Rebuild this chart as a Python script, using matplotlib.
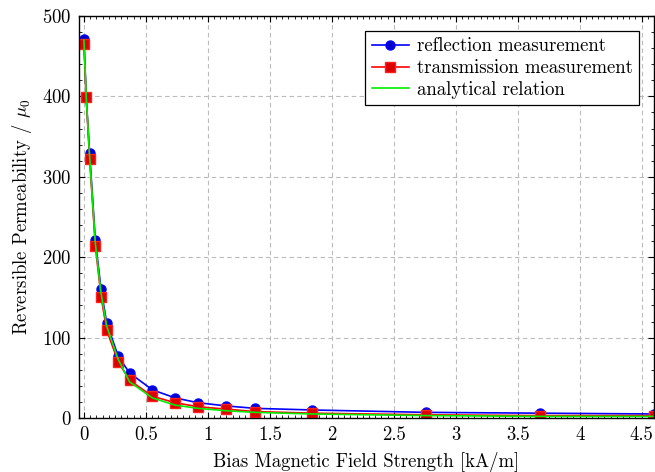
import matplotlib

matplotlib.use("Agg")
import matplotlib.pyplot as plt
from matplotlib.ticker import MultipleLocator

# bias field values [kA/m]
field_kA_m = [0.0, 0.018, 0.046, 0.092, 0.138, 0.184, 0.276, 0.368, 0.552,
              0.736, 0.92, 1.15, 1.38, 1.84, 2.76, 3.68, 4.6]

reflection = [471, 399, 329, 221, 160, 118, 77, 56, 35,
              25, 19, 15, 12, 10, 7, 6, 5]
transmission = [465, 399, 322, 214, 151, 109, 70, 47, 27,
                19, 14, 11, 8, 6, 4, 3, 3]
analytical = [470, 400, 325, 217, 155, 114, 73, 45, 25,
              16, 12, 9, 7, 5, 3, 2, 2]

XTICKS = [0, 0.5, 1, 1.5, 2, 2.5, 3, 3.5, 4, 4.5]
XTICK_LABELS = ["0", "0.5", "1", "1.5", "2", "2.5", "3", "3.5", "4", "4.5"]
YTICKS = [0, 100, 200, 300, 400, 500]


def main() -> None:
    plt.rcParams["font.family"] = "serif"
    plt.rcParams["font.serif"] = ["cmr10", "DejaVu Serif"]
    plt.rcParams["mathtext.fontset"] = "cm"
    plt.rcParams["axes.formatter.use_mathtext"] = True

    fig = plt.figure(figsize=(6.55, 4.72), dpi=100)
    ax = fig.add_axes([0.1206, 0.1144, 0.8779, 0.8517])

    ax.plot(field_kA_m, reflection, color="#0000ff", linewidth=1.2, marker="o",
            markersize=6.5, markerfacecolor="#0000cc", markeredgecolor="#0000ff",
            label="reflection measurement")
    ax.plot(field_kA_m, transmission, color="#ff0000", linewidth=1.2, marker="s",
            markersize=6.5, markerfacecolor="#dd0000", markeredgecolor="#ff2020",
            label="transmission measurement")
    ax.plot(field_kA_m, analytical, color="#00ee00", linewidth=1.2,
            label="analytical relation")

    ax.set_xlim(-0.04, 4.6)
    ax.set_ylim(0, 500)
    ax.set_xticks(XTICKS)
    ax.set_xticklabels(XTICK_LABELS)
    ax.set_yticks(YTICKS)
    ax.xaxis.set_minor_locator(MultipleLocator(0.05))
    ax.yaxis.set_minor_locator(MultipleLocator(20))
    ax.tick_params(which="both", direction="in", top=True, right=True, labelsize=13.5)
    ax.tick_params(which="major", length=4, width=0.8, pad=5.5)
    ax.tick_params(which="minor", length=2.2, width=0.6)
    ax.grid(True, which="major", color="#bbbbbb", linestyle=(0, (4, 3)), linewidth=0.8)
    for spine in ax.spines.values():
        spine.set_linewidth(1.0)

    ax.set_xlabel("Bias Magnetic Field Strength [kA/m]", fontsize=13.5, labelpad=6)
    ax.set_ylabel(r"Reversible Permeability / $\mu_0$", fontsize=13.5, labelpad=6)

    leg = ax.legend(loc="upper right", fontsize=13.5, fancybox=False, framealpha=1.0,
                    edgecolor="black", borderaxespad=0.8, handlelength=2.0,
                    borderpad=0.35, labelspacing=0.2, handletextpad=0.4)
    leg.get_frame().set_linewidth(0.9)

    fig.savefig("out.png", dpi=100)
    plt.close(fig)


if __name__ == "__main__":
    main()
